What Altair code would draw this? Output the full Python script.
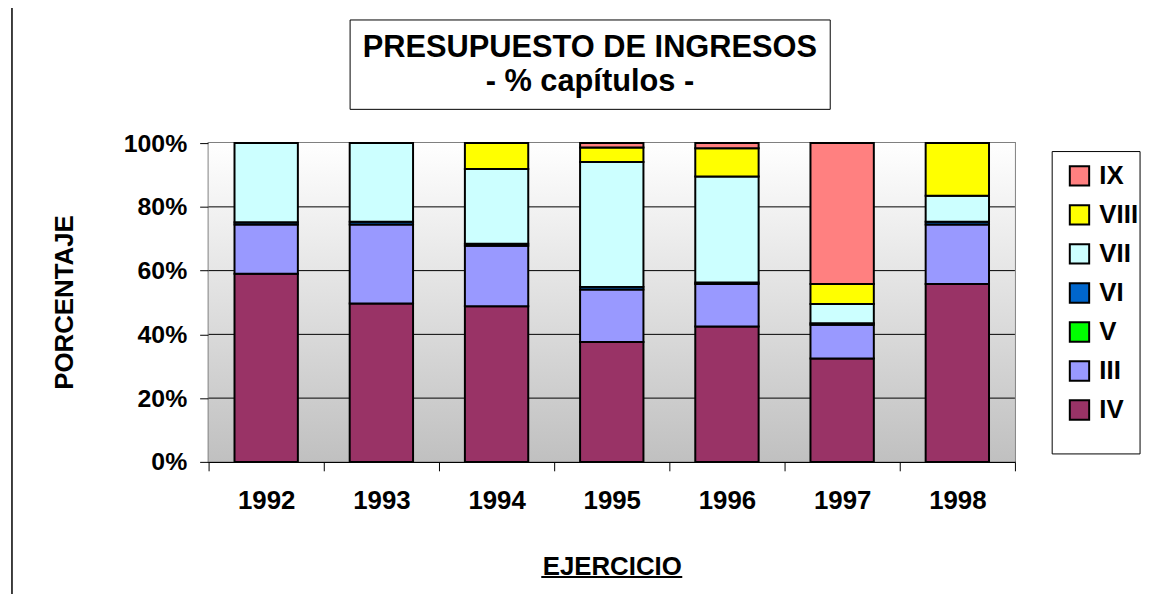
import altair as alt
import pandas as pd

# ---- data ----
years = ["1992", "1993", "1994", "1995", "1996", "1997", "1998"]
chapters = ["IV", "III", "V", "VI", "VII", "VIII", "IX"]          # stack order (bottom -> top)
legend_order = ["IX", "VIII", "VII", "VI", "V", "III", "IV"]
chapter_colors = ["#FF8080", "#FFFF00", "#CCFFFF", "#0066CC", "#00FF00", "#9999FF", "#993366"]

IV = [59.0, 49.7, 48.8, 37.6, 42.5, 32.4, 55.8]
III = [15.5, 24.8, 19.0, 16.5, 13.3, 10.6, 18.7]
V = [0.0, 0.0, 0.0, 0.0, 0.0, 0.0, 0.0]
VI = [0.7, 0.8, 0.6, 0.8, 0.5, 0.5, 0.8]
VII = [24.8, 24.7, 23.5, 39.2, 33.2, 6.0, 8.2]
VIII = [0.0, 0.0, 8.1, 4.5, 8.9, 6.3, 16.5]
IX = [0.0, 0.0, 0.0, 1.4, 1.6, 44.2, 0.0]

y_ticks = [0, 0.2, 0.4, 0.6, 0.8, 1.0]
grid_vals = [0.2, 0.4, 0.6, 0.8]
title_lines = ["PRESUPUESTO DE INGRESOS", "- % capítulos -"]
y_title = "PORCENTAJE"
x_title = "EJERCICIO"

series = {"IV": IV, "III": III, "V": V, "VI": VI, "VII": VII, "VIII": VIII, "IX": IX}
rows = []
for ci, ch in enumerate(chapters):
    for yi, yr in enumerate(years):
        v = series[ch][yi]
        if v > 0:
            rows.append({"year": yr, "chapter": ch, "value": v, "order": ci})
df = pd.DataFrame(rows)

W, H = 812, 321
FONT = "Liberation Sans"
one = pd.DataFrame({"a": [0]})

x_scale = alt.Scale(domain=years, paddingInner=0, paddingOuter=0)
y_scale = alt.Scale(domain=[0, 1])

y_axis = alt.Axis(title=y_title, values=y_ticks, format=".0%", grid=False, domain=False,
                  tickColor="black", tickSize=9, tickWidth=1, labelFont=FONT, labelFontSize=25,
                  labelFontWeight="bold", labelColor="black", labelPadding=13,
                  labelFlush=False, labelOverlap=False,
                  titleFont=FONT, titleFontSize=26, titleFontWeight="bold", titleColor="black",
                  titleAngle=270, titleX=-145, titleY=160, titleAlign="center",
                  titleBaseline="middle")

frame = alt.Chart(one).mark_rect(fillOpacity=0, stroke="black", strokeWidth=1.5).encode(
    x=alt.value(-198), x2=alt.value(990), y=alt.value(-137), y2=alt.value(560))

title_box = alt.Chart(one).mark_rect(fill="white", stroke="black", strokeWidth=1).encode(
    x=alt.value(142.5), x2=alt.value(626), y=alt.value(-124), y2=alt.value(-34))

t1 = alt.Chart(one).mark_text(text=title_lines[0], font=FONT, fontSize=31, fontWeight="bold",
                              color="black", align="center", baseline="alphabetic").encode(
    x=alt.value(384), y=alt.value(-87))
t2 = alt.Chart(one).mark_text(text=title_lines[1], font=FONT, fontSize=31, fontWeight="bold",
                              color="black", align="center", baseline="alphabetic").encode(
    x=alt.value(384), y=alt.value(-52))

legend_box = alt.Chart(one).mark_rect(fill="white", stroke="black", strokeWidth=1).encode(
    x=alt.value(849.5), x2=alt.value(938), y=alt.value(8.5), y2=alt.value(313))

bg = alt.Chart(one).mark_rect(
    fill=alt.Gradient(gradient="linear",
                      stops=[alt.GradientStop(color="#ffffff", offset=0),
                             alt.GradientStop(color="#c0c0c0", offset=1)],
                      x1=0, x2=0, y1=0, y2=1)).encode(
    x=alt.value(0), x2=alt.value(W), y=alt.value(0), y2=alt.value(H))

grid = alt.Chart(pd.DataFrame({"g": grid_vals})).mark_rule(color="black", strokeWidth=1).encode(
    y=alt.Y("g:Q", scale=y_scale, axis=y_axis))

bars = alt.Chart(df).mark_bar(stroke="black", strokeWidth=2, width=alt.RelativeBandSize(0.55)).encode(
    x=alt.X("year:N", scale=x_scale, sort=years,
            axis=alt.Axis(title=x_title, labelAngle=0, grid=False, tickBand="extent", tickSize=9,
                          tickColor="black", tickWidth=1, domainColor="black", domainWidth=1.5,
                          labelFont=FONT, labelFontSize=26, labelFontWeight="bold", labelColor="black",
                          labelPadding=17, titleFont=FONT, titleFontSize=26, titleFontWeight="bold",
                          titleColor="black", titleX=406, titleY=113, titleAlign="center",
                          titleBaseline="alphabetic")),
    y=alt.Y("value:Q", stack="normalize", scale=y_scale, axis=y_axis),
    color=alt.Color("chapter:N",
                    scale=alt.Scale(domain=legend_order, range=chapter_colors),
                    legend=alt.Legend(title=None, orient="none", legendX=853, legendY=9,
                                      symbolType="square", symbolSize=380, symbolStrokeColor="black",
                                      symbolStrokeWidth=2, symbolOpacity=1,
                                      labelFont=FONT, labelFontSize=26, labelFontWeight="bold",
                                      labelColor="black", labelOffset=7, rowPadding=11.3, padding=11,
                                      strokeColor="transparent", fillColor="transparent")),
    order=alt.Order("order:Q", sort="ascending"),
)

underline = alt.Chart(one).mark_rule(color="black", strokeWidth=2).encode(
    x=alt.value(335), x2=alt.value(477), y=alt.value(437))

chart = alt.layer(frame, title_box, t1, t2, legend_box, bg, grid, bars, underline).properties(
    width=W, height=H,
    autosize=alt.AutoSizeParams(type="none"),
    padding={"left": 202, "top": 134, "right": 134, "bottom": 131},
    background="white",
).configure(font=FONT).configure_view(stroke="#808080", strokeWidth=2)

chart.save("out.html", embed_options={"renderer": "svg", "actions": False})
